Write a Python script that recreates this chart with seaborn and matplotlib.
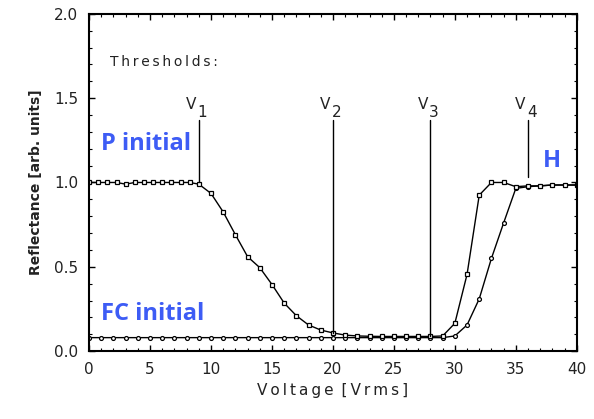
import numpy as np
import pandas as pd
import matplotlib.pyplot as plt
import seaborn as sns

# --- data ---
# P initial curve (square markers)
p_volt = [0, 0.75, 1.5, 2.25, 3, 3.75, 4.5, 5.25, 6, 6.75, 7.5, 8.25, 9,
          10, 11, 12, 13, 14, 15, 16, 17, 18, 19, 20, 21, 22,
          23, 24, 25, 26, 27, 28, 29, 30, 31, 32, 33, 34, 35,
          36, 37, 38, 39, 40]
p_refl = [1.0, 1.0, 1.0, 1.0, 0.99, 1.0, 1.0, 1.0, 1.0, 1.0, 1.0, 1.0, 0.99,
          0.935, 0.825, 0.69, 0.56, 0.495, 0.395, 0.285, 0.21, 0.155, 0.125, 0.108, 0.095, 0.09,
          0.088, 0.087, 0.087, 0.087, 0.087, 0.087, 0.09, 0.165, 0.455, 0.925, 1.0, 1.0, 0.975,
          0.98, 0.98, 0.985, 0.985, 0.985]

# FC initial curve (small circle markers)
fc_volt = list(range(0, 41))
fc_refl = [0.08] * 30 + [0.09, 0.155, 0.31, 0.55, 0.76, 0.965,
                         0.975, 0.98, 0.985, 0.985, 0.985]

# threshold lines: (x, bottom, top)
thr_names = ["1", "2", "3", "4"]
thr_volt = [9.0, 20.0, 28.0, 36.0]
thr_bottom = [1.0, 0.11, 0.09, 1.03]
thr_top = [1.37, 1.37, 1.37, 1.37]

sns.set_style("ticks")
plt.rcParams['font.family'] = ['DejaVu Sans']

fig = plt.figure(figsize=(5.94, 4.19), dpi=100)
ax = fig.add_axes([0.15, 0.162, 0.821, 0.805])

df_p = pd.DataFrame({'Voltage': p_volt, 'Reflectance': p_refl})
df_fc = pd.DataFrame({'Voltage': fc_volt, 'Reflectance': fc_refl})

sns.lineplot(data=df_fc, x='Voltage', y='Reflectance', ax=ax, color='black',
             lw=1.0, marker='o', markersize=2.8, markerfacecolor='white',
             markeredgecolor='black', markeredgewidth=0.9)
sns.lineplot(data=df_p, x='Voltage', y='Reflectance', ax=ax, color='black',
             lw=1.0, marker='s', markersize=3.2, markerfacecolor='white',
             markeredgecolor='black', markeredgewidth=0.9)

# threshold markers
for name, xv, lo, hi in zip(thr_names, thr_volt, thr_bottom, thr_top):
    ax.plot([xv, xv], [lo, hi], color='black', lw=1.0)
    ax.text(xv - 0.2, 1.42, "V", ha='right', va='bottom', fontsize=11, color='#222222')
    ax.text(xv - 0.1, 1.37, name, ha='left', va='bottom', fontsize=11, color='#222222')

ax.text(1.7, 1.715, "T\u2009h\u2009r\u2009e\u2009s\u2009h\u2009o\u2009l\u2009d\u2009s\u2009:",
        ha='left', va='center', fontsize=10, color='#222222')

blue = '#3d5cf5'
ax.text(1.0, 1.23, "P initial", color=blue, fontsize=17, fontweight='bold',
        ha='left', va='center', family='Open Sans')
ax.text(1.0, 0.22, "FC initial", color=blue, fontsize=17, fontweight='bold',
        ha='left', va='center', family='Open Sans')
ax.text(38.0, 1.13, "H", color=blue, fontsize=17, fontweight='bold',
        ha='center', va='center', family='Open Sans')

ax.set_xlim(0, 40)
ax.set_ylim(0, 2.0)
ax.set_xticks(np.arange(0, 41, 5))
ax.set_yticks([0.0, 0.5, 1.0, 1.5, 2.0])
ax.set_yticklabels(["0.0", "0.5", "1.0", "1.5", "2.0"])
ax.set_xticks(np.arange(0, 41, 1), minor=True)
ax.set_yticks(np.arange(0, 2.01, 0.1), minor=True)
ax.tick_params(which='both', direction='in', top=True, right=True, color='black')
ax.tick_params(which='major', length=4, width=1.0, labelsize=11, labelcolor='#222222', pad=8)
ax.tick_params(which='minor', length=2, width=0.8)
for s in ax.spines.values():
    s.set_linewidth(1.5)
    s.set_color('black')

ax.set_xlabel("V\u2009o\u2009l\u2009t\u2009a\u2009g\u2009e\u2009 [\u2009V\u2009r\u2009m\u2009s\u2009]",
              fontsize=11, color='#222222', labelpad=4)
ax.set_ylabel("Reflectance [arb. units]", fontsize=10, fontweight='bold',
              color='#222222', labelpad=8)

fig.savefig("out.png", dpi=100)
